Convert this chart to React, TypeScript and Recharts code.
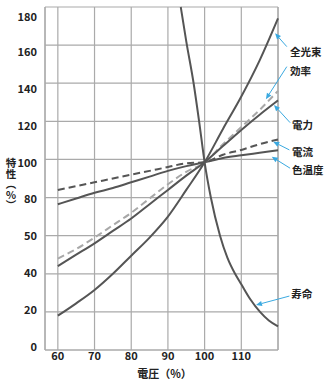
import { LineChart, Line, XAxis, YAxis, CartesianGrid, ReferenceLine, ReferenceDot, Label } from "recharts"

// 電圧 (%) and each characteristic (%)
const voltage = [60, 65, 70, 75, 80, 85, 90, 95, 100, 105, 110, 115, 120]
const luminousFlux = [18, 24.5, 31.5, 40, 49.5, 59, 70, 84, 98.5, 116, 133, 152, 174]
const efficacy = [48, 53, 59, 65.5, 72, 79.5, 87, 93.5, 98.5, 108, 117, 126, 136]
const power = [44, 50, 56, 62.5, 69, 76.5, 84, 91.5, 98.5, 107, 115.5, 123.5, 131]
const current = [84, 86, 88, 90, 92, 94, 96, 98, 98.5, 102.5, 105, 108, 110.5]
const colorTemp = [76.5, 79.5, 82.5, 85, 88, 91, 94, 96.5, 98.5, 100.8, 102.2, 103.5, 104.8]

const lifeVoltage = [93.5, 95, 97, 98.5, 100, 101.7, 104.2, 106.2, 108.3, 110, 112.5, 115.1, 117.5, 120]
const lifeValues = [180, 162, 140, 120, 98.5, 80, 60, 48.5, 40, 34.5, 26.5, 20, 15.5, 12.4]

const xTicks = [60, 70, 80, 90, 100, 110]
const yTicks = [0, 20, 40, 60, 80, 100, 120, 140, 160, 180]
const yTickLabels = ["0", "20", "40", "50", "80", "100", "120", "140", "160", "180"]

const chartData = voltage.map((v, i) => ({
  v,
  flux: luminousFlux[i],
  eff: efficacy[i],
  power: power[i],
  current: current[i],
  temp: colorTemp[i],
}))
const lifeData = lifeVoltage.map((v, i) => ({ v, life: lifeValues[i] }))

// callout arrows: tail (by the text) -> head (at the curve), in data units
const callouts = [
  { name: "全光束", tail: [122.4, 159.2], head: [119.2, 166.2], text: [123.3, 156.4] },
  { name: "効率", tail: [122.4, 148.7], head: [116.7, 131.6], text: [123.3, 146.9] },
  { name: "電力", tail: [123.3, 119.3], head: [118.9, 128.6], text: [123.8, 118.1] },
  { name: "電流", tail: [123.1, 105.0], head: [118.7, 109.3], text: [123.8, 104.2] },
  { name: "色温度", tail: [123.3, 95.4], head: [118.3, 101.4], text: [123.8, 94.5] },
  { name: "寿命", tail: [123.1, 28.3], head: [114.0, 23.6], text: [123.6, 29.4] },
]

const FONT = "'Noto Sans CJK JP', 'Noto Sans', sans-serif"
const LINE = "#555555"
const GRID = "#aaaaaa"
const BLUE = "#3aa9e0"
const TOP = 7

function arrowShape(p: any) {
  const { x1, y1, x2, y2 } = p
  const ang = Math.atan2(y2 - y1, x2 - x1)
  const len = 6
  const half = 2.6
  const bx = x2 - len * Math.cos(ang)
  const by = y2 - len * Math.sin(ang)
  const px = -Math.sin(ang) * half
  const py = Math.cos(ang) * half
  return (
    <g>
      <line x1={x1} y1={y1} x2={bx} y2={by} stroke={BLUE} strokeWidth={1} />
      <polygon points={`${x2},${y2} ${bx + px},${by + py} ${bx - px},${by - py}`} fill={BLUE} />
    </g>
  )
}

function YTick(p: any) {
  const { x, y, payload } = p
  const label = yTickLabels[yTicks.indexOf(payload.value)]
  // labels are squeezed a little towards the middle so the end ones stay inside
  const ty = TOP + 7 + (y - TOP) * 0.968
  return (
    <text x={x} y={ty} textAnchor="end" dominantBaseline="central" fontFamily={FONT} fontSize={11} fontWeight="bold" fill="#222">
      {label}
    </text>
  )
}

function YTitle(props: any) {
  const vb = props.viewBox
  return (
    <text
      x={vb.x + 11}
      y={vb.y + vb.height / 2 + 6}
      textAnchor="middle"
      writingMode="vertical-rl"
      fontFamily={FONT}
      fontSize={10.5}
      fontWeight="bold"
      fill="#222"
    >
      特性（％）
    </text>
  )
}

export default function App() {
  const tick = { fontFamily: FONT, fontSize: 11, fontWeight: "bold", fill: "#222" }
  return (
    <div style={{ position: "absolute", left: 0, top: 0, width: 327, height: 386, background: "#fff" }}>
      <LineChart width={327} height={386} margin={{ top: TOP, right: 49, bottom: 0, left: 0 }}>
        <CartesianGrid stroke={GRID} strokeWidth={1.2} />
        <XAxis
          dataKey="v"
          type="number"
          domain={[56.5, 120]}
          ticks={xTicks}
          height={36}
          tickLine={false}
          tickSize={0}
          tickMargin={2}
          axisLine={{ stroke: GRID, strokeWidth: 1.2 }}
          tick={tick}
          allowDuplicatedCategory={false}
        >
          <Label
            value="電圧（%）"
            position="insideBottom"
            offset={8}
            dx={3}
            style={{ fontFamily: FONT, fontSize: 11, fontWeight: "bold", fill: "#222" }}
          />
        </XAxis>
        <YAxis
          type="number"
          domain={[0, 180]}
          ticks={yTicks}
          width={45}
          tickLine={false}
          axisLine={{ stroke: GRID, strokeWidth: 1.2 }}
          tick={<YTick />}
          label={{ content: (p: any) => <YTitle {...p} /> }}
        />
        <ReferenceLine x={120} stroke={GRID} strokeWidth={1.2} />

        <Line data={chartData} dataKey="temp" type="monotone" stroke={LINE} strokeWidth={2} dot={false} isAnimationActive={false} />
        <Line data={chartData} dataKey="current" type="monotone" stroke={LINE} strokeWidth={2} strokeDasharray="7 4" dot={false} isAnimationActive={false} />
        <Line data={chartData} dataKey="eff" type="monotone" stroke="#a8a8a8" strokeWidth={2} strokeDasharray="7 4" dot={false} isAnimationActive={false} />
        <Line data={chartData} dataKey="power" type="monotone" stroke={LINE} strokeWidth={2} dot={false} isAnimationActive={false} />
        <Line data={chartData} dataKey="flux" type="monotone" stroke={LINE} strokeWidth={2} dot={false} isAnimationActive={false} />
        <Line data={lifeData} dataKey="life" type="monotone" stroke={LINE} strokeWidth={2} dot={false} isAnimationActive={false} />

        {callouts.map((c) => (
          <ReferenceLine
            key={"a" + c.name}
            segment={[{ x: c.tail[0], y: c.tail[1] }, { x: c.head[0], y: c.head[1] }]}
            ifOverflow="visible"
            shape={arrowShape}
          />
        ))}
        {callouts.map((c) => (
          <ReferenceDot
            key={"t" + c.name}
            x={c.text[0]}
            y={c.text[1]}
            r={0}
            ifOverflow="visible"
            shape={(p: any) => (
              <text x={p.cx} y={p.cy} dominantBaseline="central" fontFamily={FONT} fontSize={10.5} fontWeight="bold" fill="#222">
                {c.name}
              </text>
            )}
          />
        ))}
      </LineChart>
    </div>
  )
}
